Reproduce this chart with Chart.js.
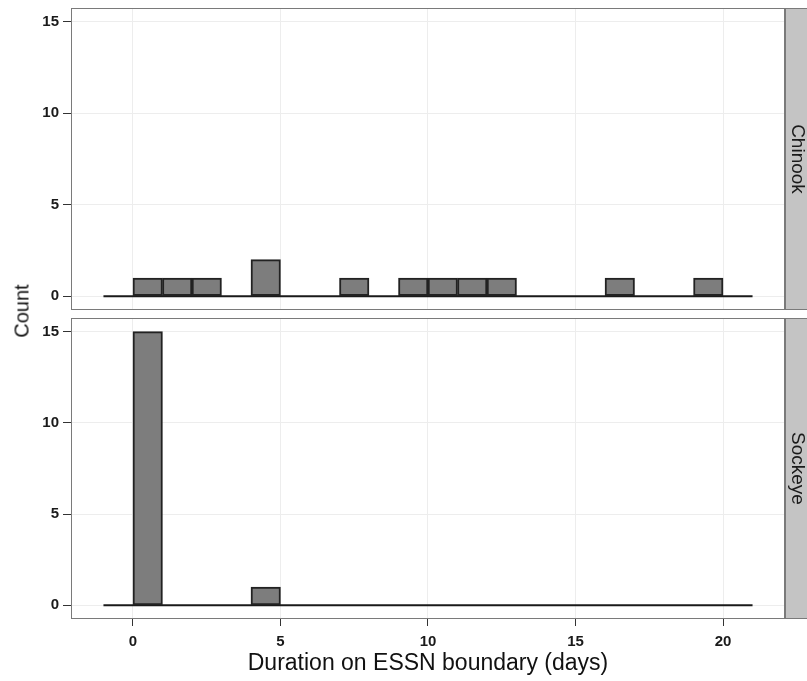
<!DOCTYPE html>
<html><head><meta charset="utf-8">
<script src="https://cdn.jsdelivr.net/npm/chart.js@4.4.1/dist/chart.umd.min.js"></script>
<style>
html,body{margin:0;padding:0;background:#fff;width:807px;height:681px;overflow:hidden;position:relative;font-family:"Liberation Sans",Arial,sans-serif;}
#c1{position:absolute;left:0;top:0;}
#c2{position:absolute;left:0;top:314px;}
#ylab{position:absolute;left:22px;top:311px;transform:translate(-50%,-50%) rotate(-90deg);font-size:20px;color:#111;white-space:nowrap;}
</style></head><body>
<canvas id="c1" width="807" height="314"></canvas>
<canvas id="c2" width="807" height="367"></canvas>
<div id="ylab">Count</div>
<script>
// Histogram bins (width 1 day), centres
const binCenters = [-0.5,0.5,1.5,2.5,3.5,4.5,5.5,6.5,7.5,8.5,9.5,10.5,11.5,12.5,13.5,14.5,15.5,16.5,17.5,18.5,19.5,20.5];
const binWidth = 1;
const chinookCounts = [0,1,1,1,0,2,0,0,1,0,1,1,1,1,0,0,0,1,0,0,1,0];
const sockeyeCounts = [0,15,0,0,0,1,0,0,0,0,0,0,0,0,0,0,0,0,0,0,0,0];
const xTicks = [0,5,10,15,20];
const yTicks = [0,5,10,15];
const panels = ["Chinook","Sockeye"];
const xTitle = "Duration on ESSN boundary (days)";

const FONT = '"Liberation Sans", Arial, sans-serif';

const framePlugin = {
  id:'frame',
  afterDatasetsDraw(chart, args, opts){
    const {ctx, chartArea:a} = chart;
    ctx.save();
    ctx.fillStyle = '#c4c4c4';
    ctx.fillRect(a.right, a.top, chart.width - a.right, a.bottom - a.top);
    ctx.strokeStyle = '#7a7a7a';
    ctx.lineWidth = 1;
    ctx.strokeRect(a.right + 0.5, a.top + 0.5, chart.width - a.right, a.bottom - a.top - 1);
    ctx.strokeRect(a.left + 0.5, a.top + 0.5, a.right - a.left - 1, a.bottom - a.top - 1);
    ctx.translate(a.right + 12, (a.top + a.bottom) / 2);
    ctx.rotate(Math.PI / 2);
    ctx.fillStyle = '#1a1a1a';
    ctx.font = '19px ' + FONT;
    ctx.textAlign = 'center';
    ctx.textBaseline = 'middle';
    ctx.fillText(opts.label, 0, 0);
    ctx.restore();
  }
};

function makeChart(id, counts, label, isBottom, ymin, ymax){
  const bars = binCenters.map((c,i)=>({x:c, y:counts[i]}));
  const base = [{x:binCenters[0]-binWidth/2, y:0},{x:binCenters[binCenters.length-1]+binWidth/2, y:0}];
  return new Chart(document.getElementById(id), {
    data:{datasets:[
      {type:'bar', data:bars, backgroundColor:'#7d7d7d', borderColor:'#222', borderWidth:2,
       borderSkipped:false, barPercentage:1, categoryPercentage:1},
      {type:'line', data:base, borderColor:'#1a1a1a', borderWidth:2, pointRadius:0, fill:false}
    ]},
    options:{
      responsive:false, animation:false,
      layout:{padding:{left:0, right:22, top: isBottom?4:8, bottom: isBottom?0:4}},
      plugins:{legend:{display:false}, tooltip:{enabled:false}, frame:{label:label}},
      scales:{
        x:{type:'linear', min:-2.1, max:22.1, offset:false,
          afterBuildTicks(s){ s.ticks = xTicks.map(v=>({value:v})); },
          afterFit(s){ s.paddingLeft=0; s.paddingRight=0; s.height = isBottom ? 62 : 0; },
          grid:{offset:false, color:'#ededed', lineWidth:1, drawTicks:isBottom, tickLength:7, tickColor:'#333'},
          border:{display:false},
          ticks:{display:isBottom, color:'#1a1a1a', font:{family:FONT, size:15, weight:'bold'}, padding:7, maxRotation:0},
          title:{display:isBottom, text:xTitle, color:'#111', font:{family:FONT, size:23}, padding:{top:0,bottom:4}}
        },
        y:{type:'linear', min:ymin, max:ymax,
          afterBuildTicks(s){ s.ticks = yTicks.map(v=>({value:v})); },
          afterFit(s){ s.width = 71; s.paddingTop=0; s.paddingBottom=0; },
          grid:{color:'#ededed', lineWidth:1, drawTicks:true, tickLength:8, tickColor:'#333'},
          border:{display:false},
          ticks:{color:'#1a1a1a', font:{family:FONT, size:15, weight:'bold'}, padding:4}
        }
      }
    },
    plugins:[framePlugin]
  });
}
makeChart('c1', chinookCounts, panels[0], false, -0.75, 15.75);
makeChart('c2', sockeyeCounts, panels[1], true, -0.75, 15.75);
</script>
</body></html>
